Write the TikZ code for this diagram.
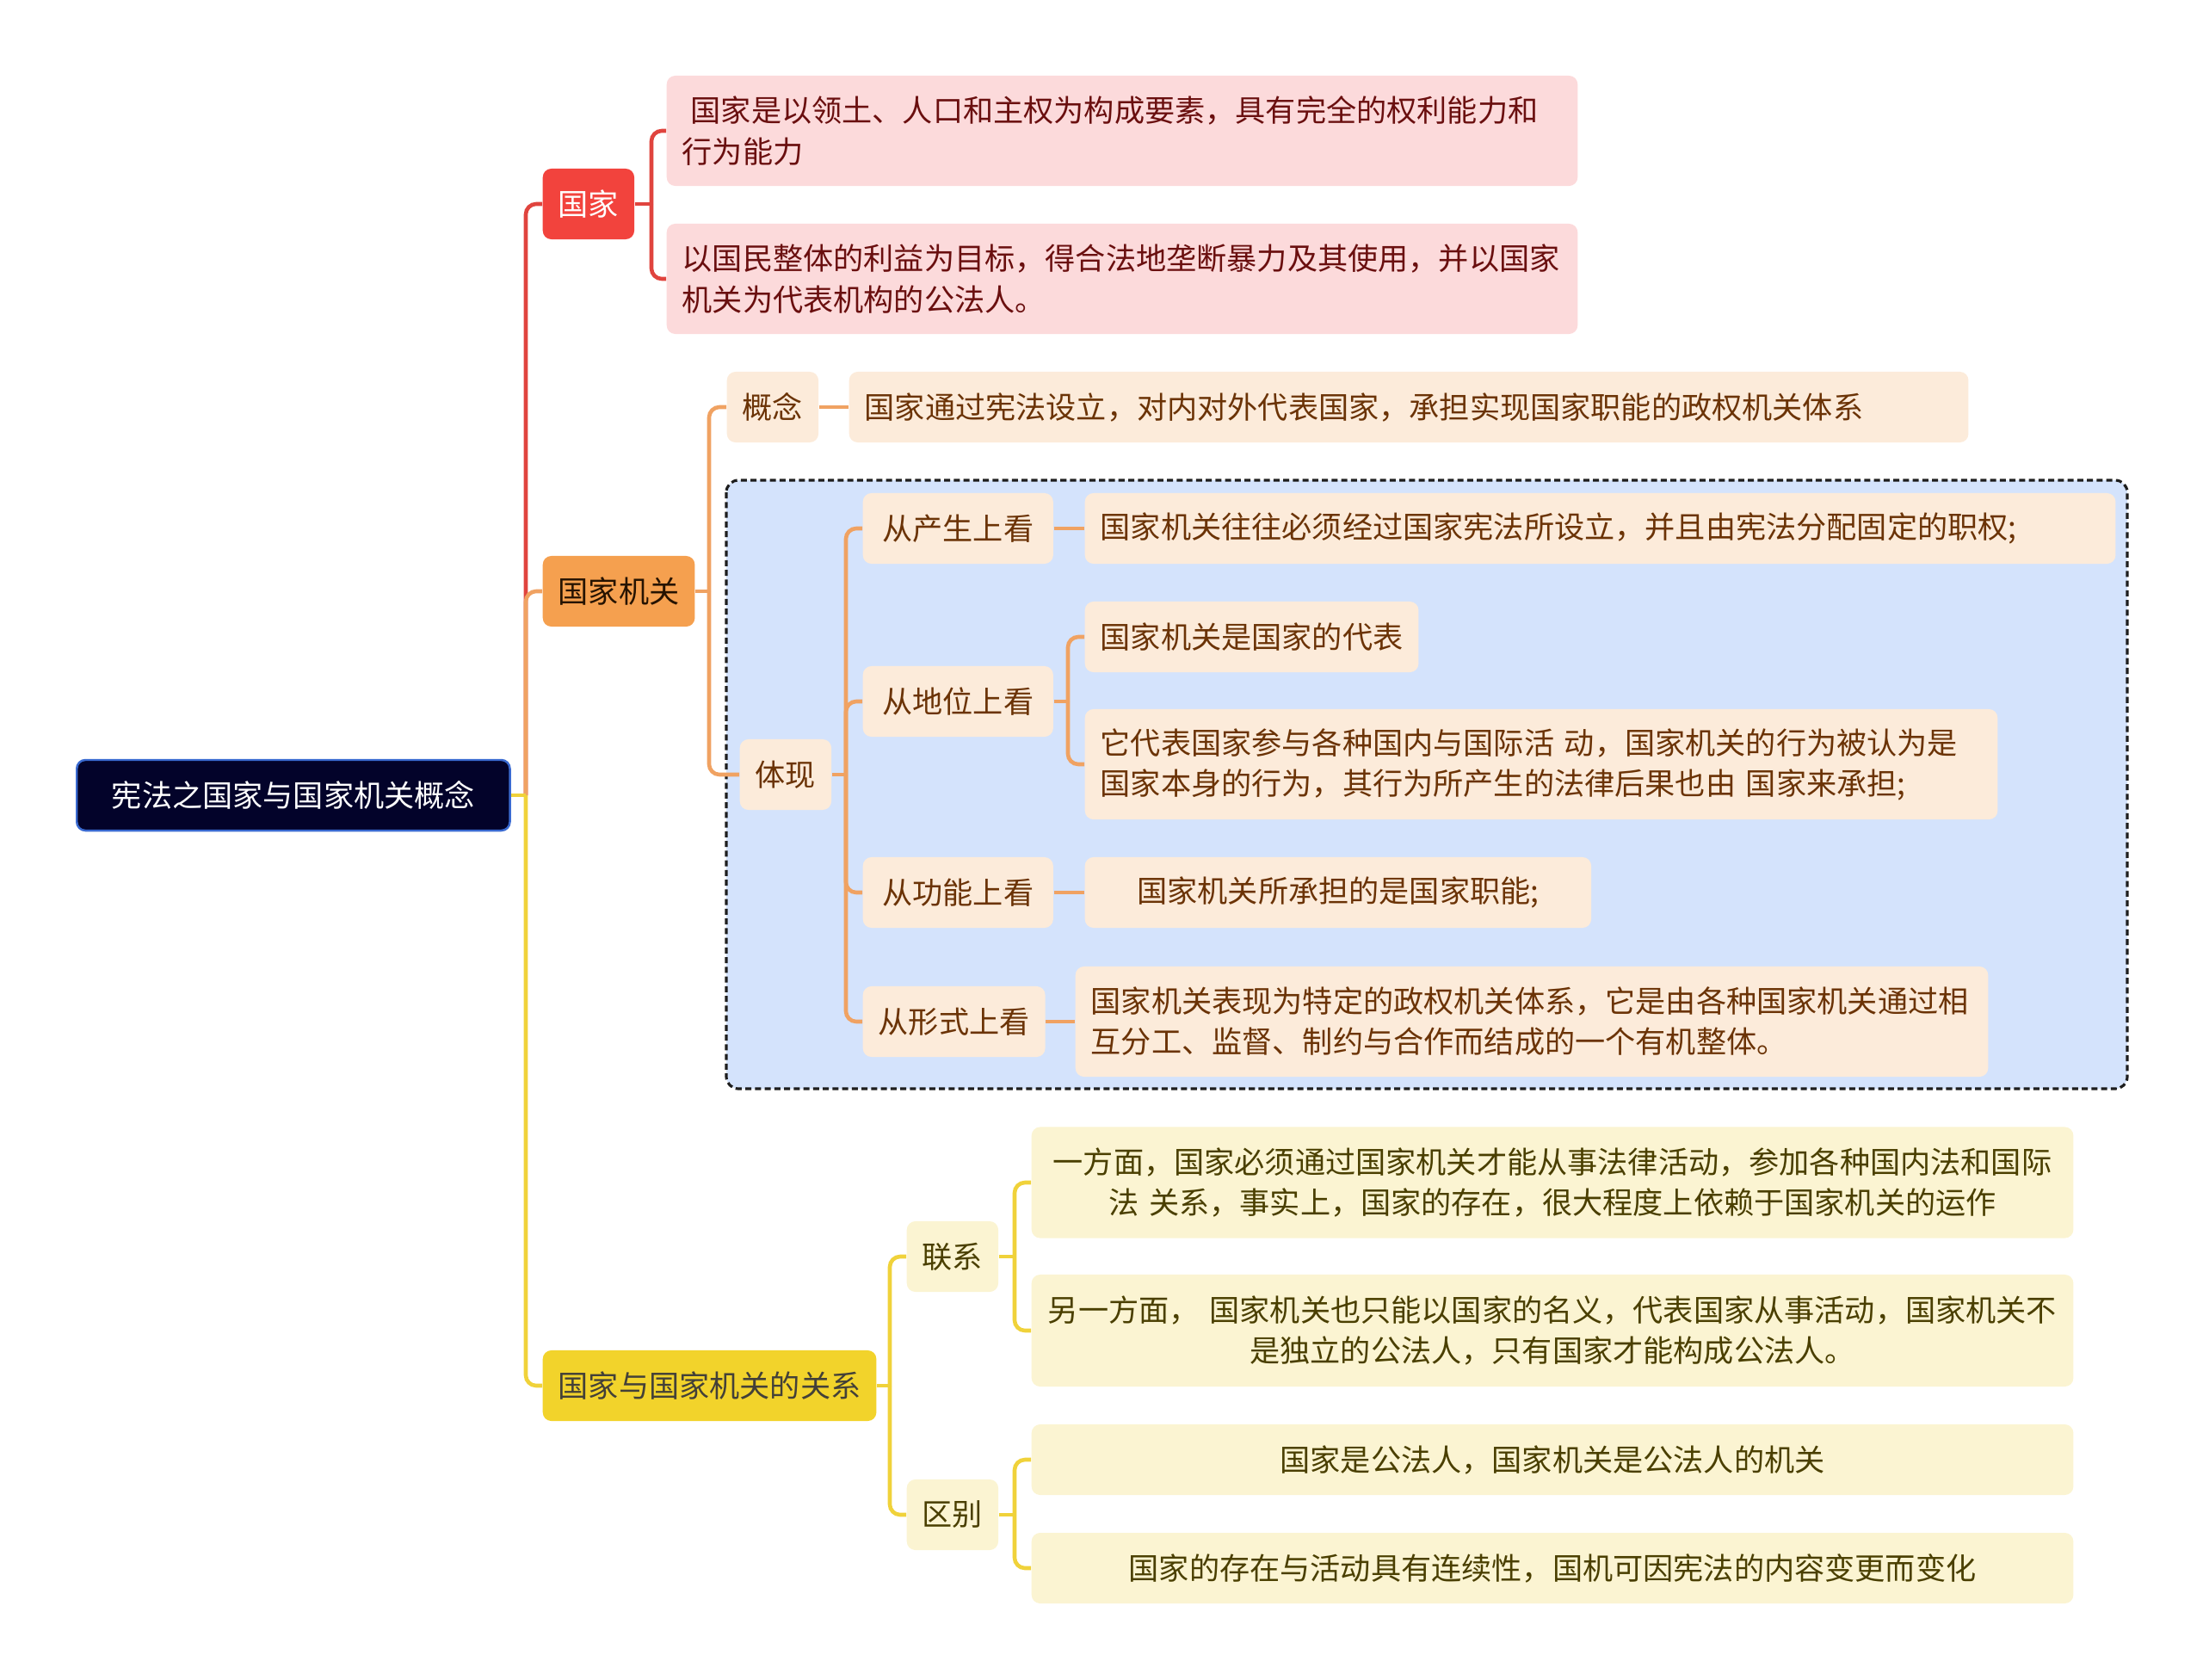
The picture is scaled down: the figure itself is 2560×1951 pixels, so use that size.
\documentclass[tikz,border=0pt]{standalone}
\usepackage{fontspec}
\setmainfont{Noto Sans CJK SC}
\usetikzlibrary{positioning}
\definecolor{rootcol}{HTML}{03032A}
\definecolor{rootedge}{HTML}{3A6AD0}
\definecolor{redcol}{HTML}{F2433D}
\definecolor{redleafcol}{HTML}{FCDADB}
\definecolor{redtextcol}{HTML}{6A0F0F}
\definecolor{redlinecol}{HTML}{E0443E}
\definecolor{orangecol}{HTML}{F5A04F}
\definecolor{orangeleafcol}{HTML}{FCEBDA}
\definecolor{orangetextcol}{HTML}{6B3306}
\definecolor{orangelinecol}{HTML}{F0A262}
\definecolor{groupcol}{HTML}{D4E3FC}
\definecolor{groupedge}{HTML}{1E1E1E}
\definecolor{yellowcol}{HTML}{F2D32B}
\definecolor{yellowleafcol}{HTML}{FBF4D2}
\definecolor{yellowtextcol}{HTML}{4A3F00}
\definecolor{yellowlinecol}{HTML}{F0D23A}
\tikzstyle{every node}=[font=\fontsize{10}{13.4}\selectfont]
\tikzstyle{box}=[rectangle,rounded corners=0.1cm,inner xsep=0.18cm,inner ysep=0pt,minimum height=0.82cm,anchor=west]
\tikzstyle{rootbox}=[box,fill=rootcol,draw=rootedge,line width=0.7pt,text=white,minimum width=5.03cm]
\tikzstyle{redbox}=[box,fill=redcol,text=white]
\tikzstyle{redleaf}=[box,fill=redleafcol,text=redtextcol,align=left,minimum height=1.28cm]
\tikzstyle{orangebox}=[box,fill=orangecol,text=black!85!orange]
\tikzstyle{orangeleaf}=[box,fill=orangeleafcol,text=orangetextcol,align=left]
\tikzstyle{yellowbox}=[box,fill=yellowcol,text=black!85!yellow]
\tikzstyle{yellowleaf}=[box,fill=yellowleafcol,text=yellowtextcol,align=center]
\tikzstyle{link}=[line width=1.3pt,rounded corners=0.12cm]
\tikzstyle{redlink}=[link,draw=redlinecol]
\tikzstyle{orangelink}=[link,draw=orangelinecol]
\tikzstyle{yellowlink}=[link,draw=yellowlinecol]
\tikzstyle{groupbox}=[fill=groupcol,draw=groupedge,line width=0.9pt,dash pattern=on 2pt off 1.2pt,rounded corners=0.14cm]

\begin{document}
\begin{tikzpicture}[x=0.01cm,y=-0.01cm]
    \useasboundingbox (0,0) rectangle (2560,1951);
    \draw[groupbox] (844,558) rectangle (2472,1265);

    \node[rootbox] (root) at (88,924) {宪法之国家与国家机关概念};
    \coordinate (rj) at (611,924);

    \node[redbox] (gj) at (630,237) {国家};
    \node[redleaf, text width=10.22cm] (gj1) at (774,152) {\hspace{0.1cm}国家是以领土、人口和主权为构成要素，具有完全的权利能力和\\行为能力};
    \node[redleaf, text width=10.22cm] (gj2) at (774,324) {以国民整体的利益为目标，得合法地垄断暴力及其使用，并以国家\\机关为代表机构的公法人。};
    \coordinate (gjj) at (757,237);

    \node[orangebox] (jg) at (630,687) {国家机关};
    \node[orangeleaf] (gn) at (844,473) {概念};
    \node[orangeleaf, text width=12.64cm] (gn1) at (986,473) {国家通过宪法设立，对内对外代表国家，承担实现国家职能的政权机关体系};
    \node[orangeleaf] (tx) at (859,900) {体现};
    \coordinate (jgj) at (824,687);
    \coordinate (txj) at (983,900);

    \node[orangeleaf, minimum width=2.21cm, align=center] (cs) at (1002,614) {从产生上看};
    \node[orangeleaf, text width=11.61cm] (cs1) at (1260,614) {国家机关往往必须经过国家宪法所设立，并且由宪法分配固定的职权;};
    \node[orangeleaf, minimum width=2.21cm, align=center] (dw) at (1002,815) {从地位上看};
    \node[orangeleaf] (dw1) at (1260,740) {国家机关是国家的代表};
    \node[orangeleaf, text width=10.24cm, minimum height=1.28cm] (dw2) at (1260,888) {它代表国家参与各种国内与国际活 动，国家机关的行为被认为是\\国家本身的行为，其行为所产生的法律后果也由 国家来承担;};
    \coordinate (dwj) at (1241,815);
    \node[orangeleaf, minimum width=2.21cm, align=center] (gnk) at (1002,1037) {从功能上看};
    \node[orangeleaf, text width=5.52cm, align=center] (gnk1) at (1260,1037) {国家机关所承担的是国家职能;};
    \node[orangeleaf] (xs) at (1002,1187) {从形式上看};
    \node[orangeleaf, text width=10.24cm, minimum height=1.28cm] (xs1) at (1249,1187) {国家机关表现为特定的政权机关体系，它是由各种国家机关通过相\\互分工、监督、制约与合作而结成的一个有机整体。};

    \node[yellowbox] (gx) at (630,1610) {国家与国家机关的关系};
    \coordinate (gxj) at (1034,1610);
    \node[yellowleaf] (lx) at (1053,1460) {联系};
    \node[yellowleaf, text width=11.74cm, minimum height=1.29cm] (lx1) at (1198,1374) {一方面，国家必须通过国家机关才能从事法律活动，参加各种国内法和国际\\法 关系，事实上，国家的存在，很大程度上依赖于国家机关的运作};
    \node[yellowleaf, text width=11.74cm, minimum height=1.30cm] (lx2) at (1198,1546) {另一方面， 国家机关也只能以国家的名义，代表国家从事活动，国家机关不\\是独立的公法人，只有国家才能构成公法人。};
    \coordinate (lxj) at (1179,1460);
    \node[yellowleaf] (qb) at (1053,1760) {区别};
    \node[yellowleaf, text width=11.74cm] (qb1) at (1198,1696) {国家是公法人，国家机关是公法人的机关};
    \node[yellowleaf, text width=11.74cm] (qb2) at (1198,1822) {国家的存在与活动具有连续性，国机可因宪法的内容变更而变化};
    \coordinate (qbj) at (1179,1760);

    \draw[redlink] (rj) |- (gj.west);
    \draw[redlink] (gj.east) -- (gjj);
    \draw[redlink] (gjj) |- (gj1.west);
    \draw[redlink] (gjj) |- (gj2.west);

    \draw[orangelink] (rj) |- (jg.west);
    \draw[orangelink] (jg.east) -- (jgj);
    \draw[orangelink] (jgj) |- (gn.west);
    \draw[orangelink] (jgj) |- (tx.west);
    \draw[orangelink] (gn.east) -- (gn1.west);
    \draw[orangelink] (tx.east) -- (txj);
    \draw[orangelink] (txj) |- (cs.west);
    \draw[orangelink] (txj) |- (dw.west);
    \draw[orangelink] (txj) |- (gnk.west);
    \draw[orangelink] (txj) |- (xs.west);
    \draw[orangelink] (cs.east) -- (cs1.west);
    \draw[orangelink] (dw.east) -- (dwj);
    \draw[orangelink] (dwj) |- (dw1.west);
    \draw[orangelink] (dwj) |- (dw2.west);
    \draw[orangelink] (gnk.east) -- (gnk1.west);
    \draw[orangelink] (xs.east) -- (xs1.west);

    \draw[yellowlink] (root.east) -- (rj);
    \draw[yellowlink] (rj) |- (gx.west);
    \draw[yellowlink] (gx.east) -- (gxj);
    \draw[yellowlink] (gxj) |- (lx.west);
    \draw[yellowlink] (gxj) |- (qb.west);
    \draw[yellowlink] (lx.east) -- (lxj);
    \draw[yellowlink] (lxj) |- (lx1.west);
    \draw[yellowlink] (lxj) |- (lx2.west);
    \draw[yellowlink] (qb.east) -- (qbj);
    \draw[yellowlink] (qbj) |- (qb1.west);
    \draw[yellowlink] (qbj) |- (qb2.west);
\end{tikzpicture}
\end{document}
